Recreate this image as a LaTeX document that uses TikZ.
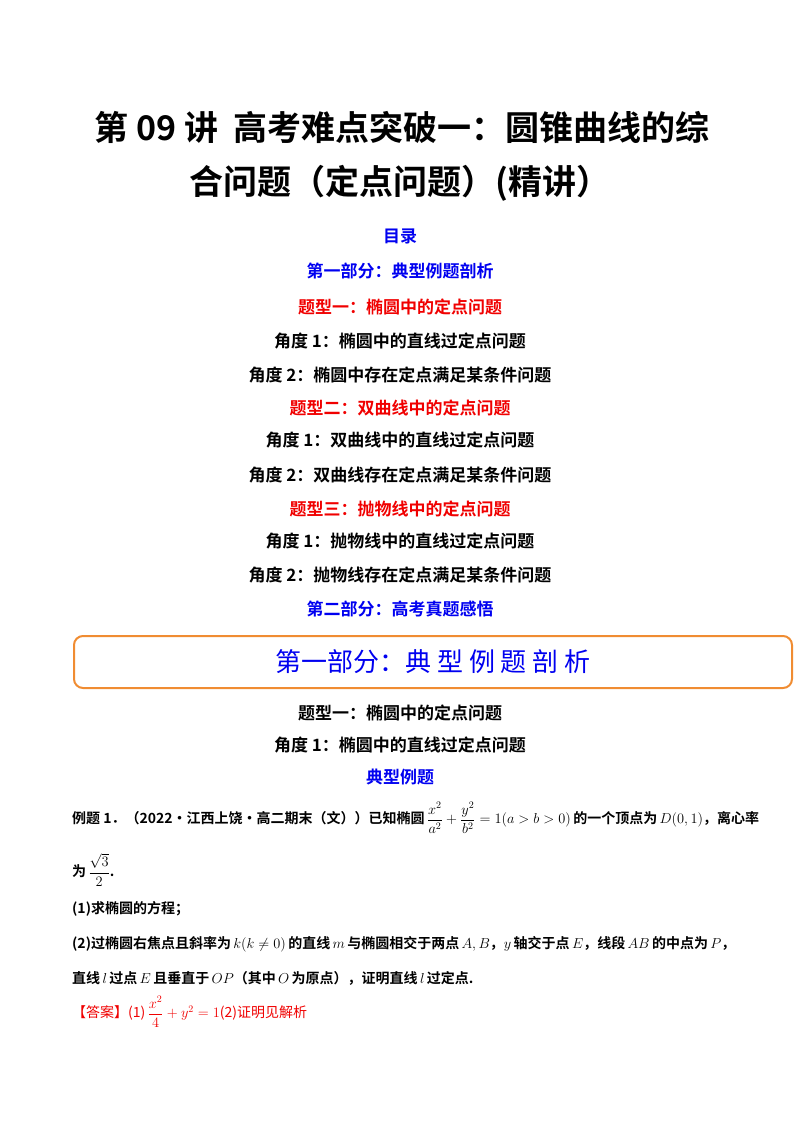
\documentclass[tikz,border=0pt]{standalone}
\usepackage{amsmath}
\usepackage{fontspec}
\setmainfont{Liberation Serif}
\newfontfamily\cjk{Noto Sans CJK SC}[BoldFont={Noto Sans CJK SC Bold}]
\definecolor{tblue}{RGB}{0,0,240}
\definecolor{tred}{RGB}{240,0,0}
\definecolor{torange}{RGB}{240,140,50}
\tikzset{
 ttl/.style={font=\fontsize{34}{38}\selectfont\cjk\bfseries},
 toc/.style={font=\fontsize{17}{20}\selectfont\cjk\bfseries},
 body/.style={font=\fontsize{14}{17}\selectfont\cjk\bfseries,anchor=west,inner sep=0pt},
}
\begin{document}
\begin{tikzpicture}[x=1pt,y=-1pt]
\useasboundingbox (0,0) rectangle (800,1132);
\node[ttl] (t1) at (402,127) {第 09 讲\ \ 高考难点突破一：圆锥曲线的综};
\node[ttl] (t2) at (400,183) {合问题（定点问题）(精讲）};
\node[toc,tblue] (m0) at (400,236) {目录};
\node[toc,tblue] (m1) at (400,271) {第一部分：典型例题剖析};
\node[toc,tred] (m2) at (400,307) {题型一：椭圆中的定点问题};
\node[toc] (m3) at (400,341) {角度 1：椭圆中的直线过定点问题};
\node[toc] (m4) at (400,375) {角度 2：椭圆中存在定点满足某条件问题};
\node[toc,tred] (m5) at (400,408) {题型二：双曲线中的定点问题};
\node[toc] (m6) at (400,440) {角度 1：双曲线中的直线过定点问题};
\node[toc] (m7) at (400,475) {角度 2：双曲线存在定点满足某条件问题};
\node[toc,tred] (m8) at (400,509) {题型三：抛物线中的定点问题};
\node[toc] (m9) at (400,541) {角度 1：抛物线中的直线过定点问题};
\node[toc] (m10) at (400,575) {角度 2：抛物线存在定点满足某条件问题};
\node[toc,tblue] (m11) at (400,609) {第二部分：高考真题感悟};
\node[draw=torange,line width=2pt,rounded corners=9pt,minimum width=718pt,minimum height=52pt,
 font=\fontsize{26}{30}\selectfont\cjk,text=tblue] (box) at (433,662) {第一部分：典\ 型\ 例\ 题\ 剖\ 析};
\node[toc] (h1) at (400,713) {题型一：椭圆中的定点问题};
\node[toc] (h2) at (400,745) {角度 1：椭圆中的直线过定点问题};
\node[toc,tblue] (h3) at (400,777) {典型例题};
\node[body] (e1) at (72,818) {例题 1．（2022·江西上饶·高二期末（文））已知椭圆\,$\dfrac{x^2}{a^2}+\dfrac{y^2}{b^2}=1(a>b>0)$\,的一个顶点为\,$D(0,1)$，离心率};
\node[body] (e2) at (72,870) {为\,$\dfrac{\sqrt3}{2}$.};
\node[body] (e3) at (72,909) {(1)求椭圆的方程；};
\node[body] (e4) at (72,944) {(2)过椭圆右焦点且斜率为\,$k(k\neq0)$\,的直线\,$m$\,与椭圆相交于两点\,$A,B$，$y$\,轴交于点\,$E$，线段\,$AB$\,的中点为\,$P$，};
\node[body] (e5) at (72,978) {直线\,$l$\,过点\,$E$\,且垂直于\,$OP$（其中\,$O$\,为原点），证明直线\,$l$\,过定点.};
\node[body,font=\fontsize{14}{17}\selectfont\cjk,text=tred] (ans) at (72,1012) {【答案】(1)\,$\dfrac{x^2}{4}+y^2=1$(2)证明见解析};
\end{tikzpicture}
\end{document}
